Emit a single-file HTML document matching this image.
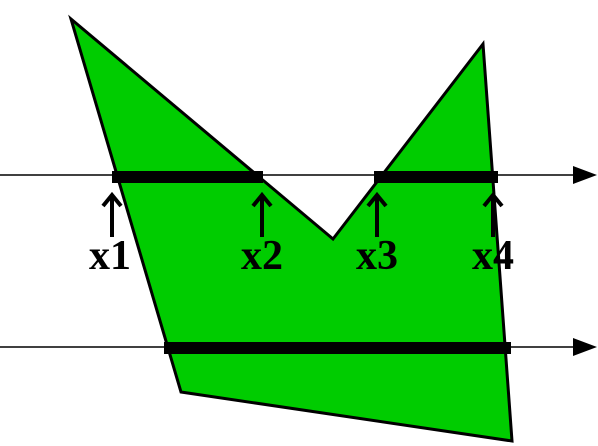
<!DOCTYPE html>
<html><head><meta charset="utf-8"><style>body{margin:0;background:#fff}svg{display:block}</style></head>
<body>
<svg width="598" height="446" viewBox="0 0 598 446">
<polygon points="71,19 333,239 483,44 512,441 181,392" fill="#00cc00" stroke="#000" stroke-width="3" stroke-linejoin="miter"/>
<g>
<line x1="0" y1="175" x2="575" y2="175" stroke="#000" stroke-width="1.5"/>
<polygon points="597,175 573,166 573,184" fill="#000"/>
<rect x="112" y="171" width="151" height="12" fill="#000"/>
<rect x="374" y="171" width="124" height="12" fill="#000"/>
</g>
<g>
<line x1="0" y1="347" x2="575" y2="347" stroke="#000" stroke-width="1.5"/>
<polygon points="597,347 573,338 573,356" fill="#000"/>
<rect x="164" y="342" width="347" height="12" fill="#000"/>
</g>
<g stroke="#000" stroke-width="4" fill="none">
<path d="M112,237 V196 M103,206 L112,195 L121,206"/>
<path d="M262,237 V196 M253,206 L262,195 L271,206"/>
<path d="M377,237 V196 M368,206 L377,195 L386,206"/>
<path d="M493,237 V196 M484,206 L493,195 L502,206"/>
</g>
<g font-family="Liberation Serif, serif" font-weight="bold" font-size="42" text-anchor="middle" fill="#000">
<text x="110" y="269">x1</text>
<text x="262" y="269">x2</text>
<text x="377" y="269">x3</text>
<text x="493" y="269">x4</text>
</g>
</svg>
</body></html>
